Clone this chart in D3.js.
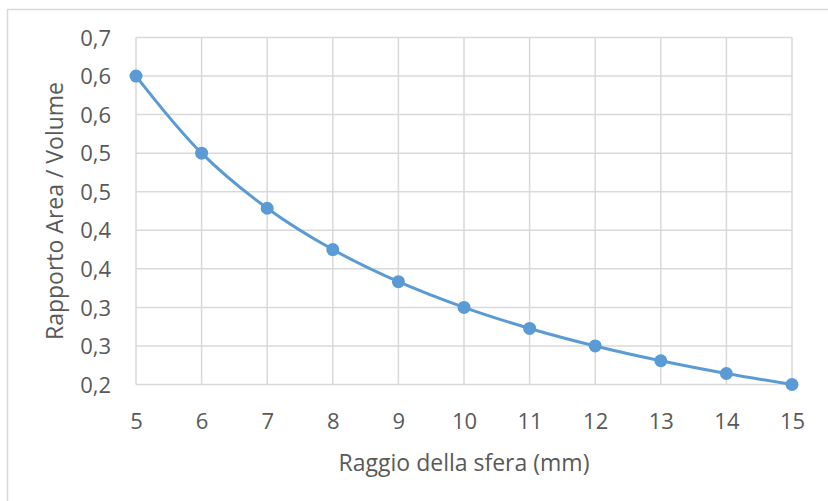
<!DOCTYPE html>
<html>
<head>
<meta charset="utf-8">
<script src="https://cdn.jsdelivr.net/npm/d3@7"></script>
<style>
  html, body { margin: 0; padding: 0; background: #ffffff; }
  svg { display: block; }
  text { font-family: "Open Sans", "Liberation Sans", sans-serif; fill: #595959; }
</style>
</head>
<body>
<svg id="chart" width="828" height="501"></svg>
<script>
// Sphere radius (mm) and surface-area / volume ratio (3 / r)
const radii = [5, 6, 7, 8, 9, 10, 11, 12, 13, 14, 15];
const ratios = [0.6, 0.5, 0.4286, 0.375, 0.3333, 0.3, 0.2727, 0.25, 0.2308, 0.2143, 0.2];

// Y ticks every 0.05; labels rounded to one decimal with comma separator
const yTickValues = [0.2, 0.25, 0.3, 0.35, 0.4, 0.45, 0.5, 0.55, 0.6, 0.65];
const yTickLabels = ["0,2", "0,3", "0,3", "0,4", "0,4", "0,5", "0,5", "0,6", "0,6", "0,7"];
const xTickValues = [5, 6, 7, 8, 9, 10, 11, 12, 13, 14, 15];

const xTitle = "Raggio della sfera (mm)";
const yTitle = "Rapporto Area / Volume";

const svg = d3.select("#chart");
const W = 828, H = 501;
const plot = { left: 136, right: 792, top: 37.5, bottom: 384.5 };

// Chart area frame
svg.append("path")
  .attr("d", `M7.5,${H} V9.5 H${W}`)
  .attr("fill", "none")
  .attr("stroke", "#d9d9d9")
  .attr("stroke-width", 1.5);

const x = d3.scaleLinear().domain([5, 15]).range([plot.left, plot.right]);
const y = d3.scaleLinear().domain([0.2, 0.65]).range([plot.bottom, plot.top]);

// Gridlines
const grid = svg.append("g").attr("stroke", "#d9d9d9").attr("stroke-width", 1.5);
grid.selectAll("line.h").data(yTickValues).join("line")
  .attr("x1", plot.left).attr("x2", plot.right)
  .attr("y1", d => y(d)).attr("y2", d => y(d));
grid.selectAll("line.v").data(xTickValues).join("line")
  .attr("y1", plot.top).attr("y2", plot.bottom)
  .attr("x1", d => x(d)).attr("x2", d => x(d));

// Y axis labels
const yAxis = d3.axisLeft(y)
  .tickValues(yTickValues)
  .tickFormat((d, i) => yTickLabels[i])
  .tickSize(0)
  .tickPadding(25);
const gy = svg.append("g").attr("transform", `translate(${plot.left},0)`).call(yAxis);
gy.select(".domain").remove();
gy.selectAll("text").style("font-size", "22px").attr("fill", "#595959").attr("dy", "0.35em");

// X axis labels
const xAxis = d3.axisBottom(x)
  .tickValues(xTickValues)
  .tickFormat(d3.format("d"))
  .tickSize(0)
  .tickPadding(0);
const gx = svg.append("g").attr("transform", `translate(0,${plot.bottom})`).call(xAxis);
gx.select(".domain").remove();
gx.selectAll("text").style("font-size", "22px").attr("fill", "#595959")
  .attr("y", 37).attr("dy", "0.35em");

// Axis titles
svg.append("text")
  .attr("x", 464)
  .attr("y", 463)
  .attr("dy", "0.35em")
  .attr("text-anchor", "middle")
  .style("font-size", "23px")
  .text(xTitle);

svg.append("text")
  .attr("transform", `translate(55,${(plot.top + plot.bottom) / 2}) rotate(-90)`)
  .attr("dy", "0.35em")
  .attr("text-anchor", "middle")
  .style("font-size", "23px")
  .text(yTitle);

// Smoothed series line with markers
const pts = radii.map((r, i) => [r, ratios[i]]);
const line = d3.line()
  .x(d => x(d[0]))
  .y(d => y(d[1]))
  .curve(d3.curveCatmullRom.alpha(0.5));

svg.append("path")
  .datum(pts)
  .attr("d", line)
  .attr("fill", "none")
  .attr("stroke", "#5b9bd5")
  .attr("stroke-width", 3);

svg.append("g").selectAll("circle").data(pts).join("circle")
  .attr("cx", d => x(d[0]))
  .attr("cy", d => y(d[1]))
  .attr("r", 6.5)
  .attr("fill", "#5b9bd5");
</script>
</body>
</html>
